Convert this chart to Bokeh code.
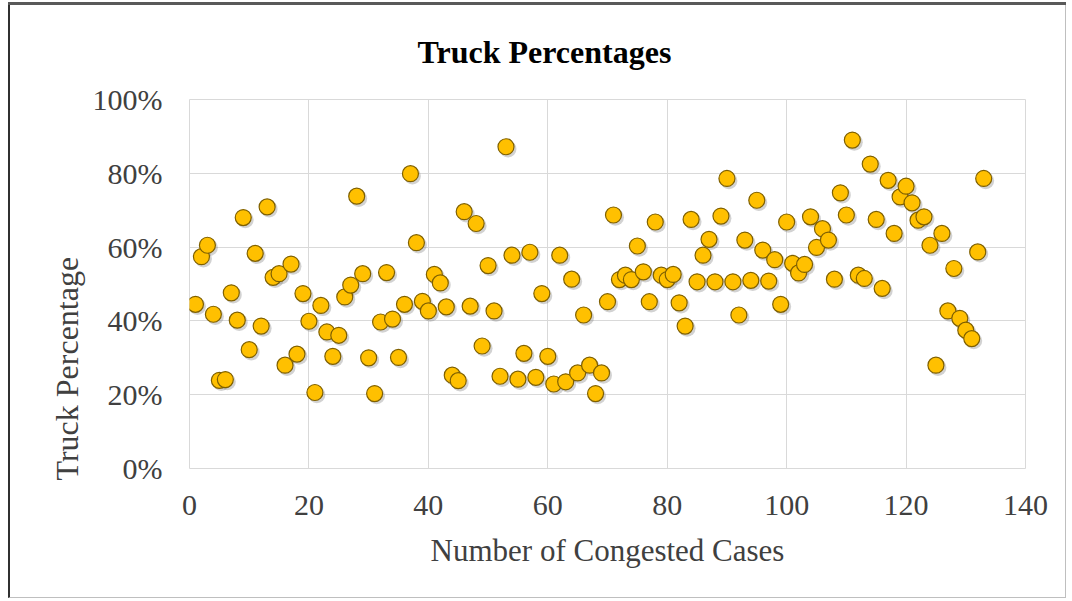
from bokeh.plotting import figure
from bokeh.models import ColumnDataSource, FixedTicker, PrintfTickFormatter, Range1d, Title
from bokeh.transform import dodge
from bokeh.embed import file_html
from bokeh.resources import INLINE

# ---- data ----
case_no = list(range(1, 134))
truck_pct = [
    44.5, 57.4, 60.5, 41.8, 23.9, 24.1, 47.6, 40.2, 68.0, 32.2,
    58.3, 38.6, 70.9, 51.8, 52.8, 28.0, 55.4, 31.0, 47.4, 39.9,
    20.6, 44.2, 37.0, 30.4, 36.1, 46.5, 49.7, 73.8, 52.8, 30.0,
    20.3, 39.7, 53.1, 40.5, 30.1, 44.5, 79.9, 61.2, 45.3, 42.7,
    52.6, 50.3, 43.8, 25.3, 23.8, 69.6, 44.0, 66.4, 33.2, 55.0,
    42.7, 25.0, 87.2, 57.8, 24.2, 31.2, 58.6, 24.7, 47.4, 30.4,
    22.9, 57.8, 23.5, 51.3, 25.9, 41.6, 28.0, 20.3, 25.9, 45.2,
    68.7, 51.2, 52.4, 51.2, 60.3, 53.3, 45.2, 66.8, 52.4, 51.2,
    52.6, 44.9, 38.6, 67.5, 50.6, 57.8, 62.1, 50.6, 68.4, 78.6,
    50.6, 41.6, 61.9, 51.0, 72.7, 59.2, 50.8, 56.6, 44.5, 66.8,
    55.6, 53.0, 55.3, 68.2, 59.9, 65.0, 61.9, 51.3, 74.7, 68.7,
    89.0, 52.4, 51.5, 82.5, 67.5, 48.8, 78.1, 63.7, 73.6, 76.5,
    72.0, 67.3, 68.2, 60.5, 28.0, 63.7, 42.7, 54.2, 40.7, 37.5,
    35.2, 58.7, 78.6,
]
x_ticks = [0, 20, 40, 60, 80, 100, 120, 140]
y_ticks = [0, 20, 40, 60, 80, 100]

FONT = "Liberation Serif"
TXT = "#404040"
GRID = "#D9D9D9"

src = ColumnDataSource(dict(x=case_no, y=truck_pct))

p = figure(width=1058, height=593, output_backend="svg", toolbar_location=None,
           x_range=Range1d(0, 140), y_range=Range1d(0, 100),
           min_border_left=179, min_border_right=43,
           min_border_top=94, min_border_bottom=130)
p.styles = {"margin-left": "8px", "margin-top": "5px",
            "box-shadow": "0 -3px 0 0 #595959",
            "border-left": "2px solid #303030",
            "border-right": "1px solid #BFBFBF", "border-bottom": "1px solid #BFBFBF"}

p.title = Title(text="Truck Percentages", align="left", offset=228,
                vertical_align="top",
                text_font=FONT, text_font_size="32px", text_font_style="bold",
                text_color="#000000", standoff=55)

p.add_layout(Title(text="Truck Percentage", align="left", offset=-12,
                   text_font=FONT, text_font_size="32px", text_font_style="normal",
                   text_color=TXT, standoff=10), "left")

# shadow
p.scatter(x=dodge("x", 0.33), y=dodge("y", -0.6), source=src, size=17,
          fill_color="#7F7F7F", fill_alpha=0.35, line_color=None)
p.scatter(x="x", y="y", source=src, size=16, fill_color="#FFC000",
          line_color="#7F6000", line_width=1.2)

p.xaxis.ticker = FixedTicker(ticks=x_ticks)
p.yaxis.ticker = FixedTicker(ticks=y_ticks)
p.yaxis.formatter = PrintfTickFormatter(format="%d%%")

for ax in (p.xaxis, p.yaxis):
    ax.axis_line_color = None
    ax.major_tick_line_color = None
    ax.minor_tick_line_color = None
    ax.major_label_text_font = FONT
    ax.major_label_text_font_size = "30px"
    ax.major_label_text_color = TXT

p.xaxis.major_label_standoff = 21
p.yaxis.major_label_standoff = 21
p.xaxis.axis_label = "Number of Congested Cases"
p.xaxis.axis_label_text_font = FONT
p.xaxis.axis_label_text_font_size = "31px"
p.xaxis.axis_label_text_font_style = "normal"
p.xaxis.axis_label_text_color = TXT
p.xaxis.axis_label_standoff = 15

p.xgrid.grid_line_color = GRID
p.ygrid.grid_line_color = GRID
p.outline_line_color = GRID
p.background_fill_color = "white"
p.border_fill_color = "white"

open("out.html", "w").write(file_html(p, INLINE))
